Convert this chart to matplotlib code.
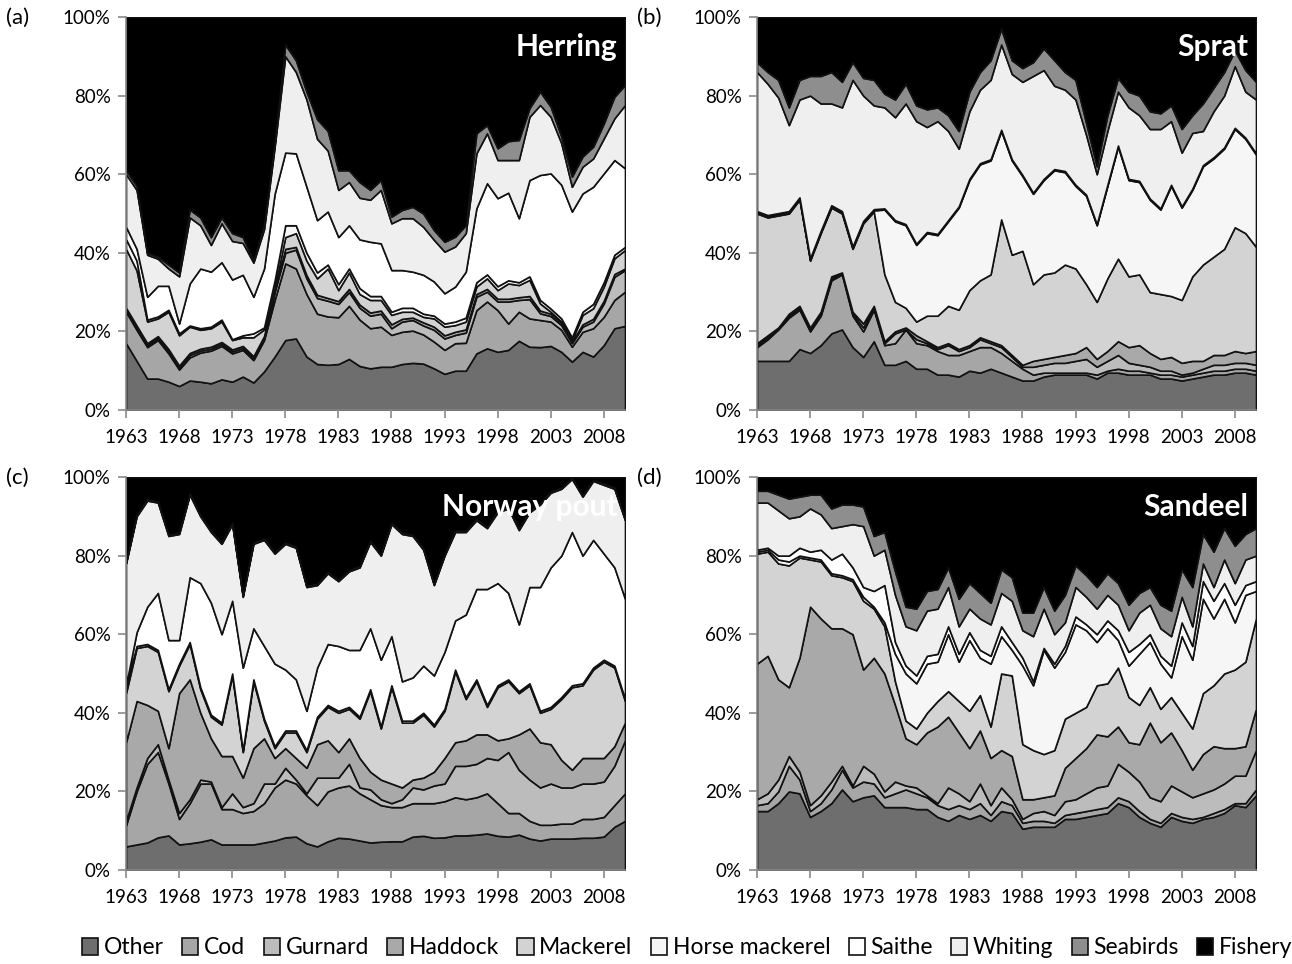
import matplotlib.pyplot as plt
import numpy as np

plt.rcParams['font.family'] = ['Lato', 'DejaVu Sans']

YEARS = np.arange(1963, 2011)
SPECIES = ['Other', 'Cod', 'Gurnard', 'Haddock', 'Mackerel', 'Horse mackerel',
           'Saithe', 'Whiting', 'Seabirds', 'Fishery']
COLORS = ['#6e6e6e', '#a6a6a6', '#bcbcbc', '#a9a9a9', '#d3d3d3', '#f6f6f6',
          '#ffffff', '#efefef', '#8e8e8e', '#000000']
XTICKS = np.arange(1963, 2009, 5)

# cumulative tops (%) of each layer, one value per year
# (a) Herring
A_OTHER = [17, 12.5, 8, 8, 7.2, 6.1, 7.5, 7.2, 6.8, 7.8,
           7.2, 8.5, 7, 9.8, 13.6, 17.8, 18.2, 13.6, 11.7, 11.5,
           11.7, 13, 11.2, 10.6, 11, 11, 11.7, 12, 11.8, 10.6,
           9.2, 10, 10, 14.4, 15.7, 14.8, 15.3, 17.6, 16.1, 16,
           16.3, 14.8, 12.3, 14.8, 13.6, 16.5, 20.8, 21.4]
A_COD = [25, 20.4, 16, 17.8, 14.4, 10.3, 13.4, 14.6, 15.1, 16.3,
         14.4, 15.3, 12.7, 17.8, 28, 37.3, 36, 29.5, 24.5, 23.8,
         23.6, 26.5, 23, 20.8, 21.2, 19.1, 19.9, 20.2, 19.2, 17.4,
         15.3, 17, 17.1, 25.4, 27.6, 25.4, 22, 25, 23.3, 22.9,
         22.5, 20.4, 16.1, 19.9, 20.8, 23.7, 28, 30.1]
A_GUR = [25.5, 21, 16.5, 18.3, 15, 10.8, 14, 15.1, 15.6, 16.8,
         14.9, 15.8, 13.2, 18.3, 30, 40, 40.8, 33.5, 28.5, 27.8,
         27, 30, 26, 24, 24.5, 20.8, 22.5, 22.9, 21.5, 20.4,
         18.2, 19.1, 19.7, 28.8, 30.1, 27.6, 27.6, 28, 28.2, 24.6,
         23.9, 21.6, 17, 21.2, 22.5, 27.1, 33.9, 35.6]
A_HAD = [26, 21.5, 17, 18.8, 15.5, 11.3, 14.5, 15.6, 16.1, 17.3,
         15.4, 16.3, 13.7, 18.8, 30.5, 41, 41.5, 34.3, 29.3, 28.5,
         27.7, 30.8, 26.8, 24.8, 25.3, 21.8, 23.2, 23.5, 22.3, 21.2,
         19, 19.9, 20.5, 29.5, 30.8, 28.3, 28.3, 28.7, 29, 25.3,
         24.5, 22.2, 17.4, 21.8, 23.2, 27.8, 34.6, 36]
A_MAC = [41, 35.5, 22.5, 23.3, 25, 19, 21.2, 20.4, 20.8, 22.5,
         17.8, 18.5, 18.5, 20.5, 31, 44, 45, 38, 33.5, 36,
         30.5, 35, 29.5, 28, 28, 24.2, 25, 25, 23.7, 23.3,
         21.2, 21.6, 22.5, 31.4, 33.5, 30.5, 32.2, 31.8, 33.1, 27.1,
         25, 22.5, 17.8, 24.2, 25.9, 31.4, 38.6, 40.7]
A_HOR = [43.5, 38, 23, 23.8, 25.5, 19.5, 21.5, 20.8, 21.2, 23,
         18, 19, 19.5, 21, 33, 47, 47, 40, 35, 37,
         32, 36, 31, 29, 29, 25, 26, 26, 24.5, 24,
         22, 22.5, 23.5, 32.5, 34.5, 31.5, 33, 32.5, 34, 28,
         25.8, 23.3, 18.5, 25, 27, 32.5, 39.5, 41.5]
A_SAI = [46.6, 41, 28.8, 31.6, 31.6, 22, 32.2, 36, 35.2, 37.6,
         33.2, 34.4, 28.8, 36, 55, 65.5, 65.3, 56.8, 48.3, 50.5,
         44, 47, 43.4, 42.8, 42.4, 35.6, 35.6, 35.2, 34.4, 32.7,
         29.7, 31.4, 35.2, 51.3, 57.7, 53.9, 55.3, 48.8, 58.5, 59.8,
         60.2, 57.3, 50.5, 55.1, 56.8, 60.2, 63.6, 61.5]
A_WHI = [60, 56, 39.5, 38.5, 36, 34, 49, 47, 42, 47.5,
         43, 42.5, 37.5, 46, 67, 90, 86, 79, 69, 66,
         56, 58, 54, 53.5, 56, 47.5, 48.8, 48.8, 46.6, 43.3,
         40.3, 41.6, 45, 65.3, 70.4, 63.6, 63.6, 63.6, 74.6, 77.6,
         74.6, 67.9, 56.8, 61.9, 64, 69.1, 74.2, 77.6]
A_SEA = [61, 57, 40, 39, 37, 35, 51, 49, 44, 49,
         45, 44, 38, 47, 68, 93, 89, 81, 74, 71,
         61, 61, 58, 56, 58.5, 49.2, 50.9, 51.7, 50, 45.8,
         42.8, 44.1, 47, 70.4, 72.5, 66.6, 68.4, 68.7, 76.8, 81,
         77.2, 69.6, 59.4, 64.5, 67, 72.9, 79.7, 82.7]

# (b) Sprat
B_OTHER = [12.5, 12.5, 12.5, 12.5, 15.5, 14.5, 16.5, 19.5, 20.5, 16,
           13.5, 17.5, 11.5, 11.5, 12.5, 10.5, 10.5, 9, 9, 8.5,
           10, 9.5, 10.5, 9.5, 8.5, 7.5, 7.5, 8.5, 9, 9,
           9, 9, 8, 9.5, 9.5, 9, 9, 9, 8, 8,
           7.5, 8, 8.5, 9, 9, 9.5, 9.5, 9]
B_COD = [16, 18, 20.5, 23.5, 25.5, 20, 24, 33, 34.5, 24,
         20, 25.5, 16.5, 17, 20.5, 17, 16.5, 15, 14, 14,
         15, 16, 16, 14.5, 12.5, 10.5, 9, 9.5, 9.5, 9.5,
         9.5, 9.5, 9, 10, 10.5, 10, 10, 9.5, 9, 9,
         8.5, 9, 9.5, 10, 10, 10.5, 10.5, 10]
B_GUR = [16.5, 18.5, 21, 24, 26, 20.5, 24.5, 33.5, 35, 24.5,
         21, 26, 17, 19.5, 20.5, 18, 17, 15.5, 16.5, 15,
         16, 18, 17, 16, 13.5, 11, 11, 11.5, 12, 12,
         12.5, 13, 11, 12.5, 14, 12, 11.5, 11, 10, 10,
         9, 9.5, 10.5, 11.5, 11.5, 12, 12, 11.5]
B_HAD = [17, 19, 21, 24.5, 26.5, 21, 25, 34, 35, 25,
         22, 26.5, 17.5, 20, 21, 19, 17.5, 16, 17, 15.5,
         16.5, 18.5, 17.5, 16.5, 14, 11.5, 12.5, 13, 13.5, 14,
         14.5, 16, 13, 15, 17.5, 16, 16.5, 14.5, 13, 13.5,
         12, 12.5, 12.5, 14, 14, 15, 14.5, 15]
B_MAC = [50, 49, 49.5, 50, 53.5, 38, 45, 51.5, 50, 41,
         47.5, 50.5, 34.5, 27.5, 26, 22.5, 24, 24, 26.5, 25.5,
         30.5, 33, 34.5, 48.5, 39.5, 40.5, 32, 34.5, 35, 37,
         36, 32, 27.5, 33.5, 38.5, 34, 34.5, 30, 29.5, 29,
         28, 34, 37, 39, 41, 46.5, 45, 41.5]
B_HOR = [50.3, 49.3, 49.8, 50.3, 53.8, 38.3, 45.3, 51.8, 50.3, 41.3,
         47.8, 50.8, 51, 48, 47, 42, 45, 44.5, 48, 51.5,
         58.5, 62.5, 63.5, 71, 63.5, 59.5, 55, 58.5, 61, 60.5,
         57, 54.5, 47, 57, 67, 58.5, 58, 53.5, 51, 57,
         51.5, 56, 62, 64, 66.5, 71.5, 69, 65]
B_SAI = [50.6, 49.6, 50.1, 50.6, 54.1, 38.6, 45.6, 52.1, 50.6, 41.6,
         48.1, 51.1, 51.3, 48.3, 47.3, 42.3, 45.3, 44.8, 48.3, 51.8,
         58.8, 62.8, 63.8, 71.3, 63.8, 59.8, 55.3, 58.8, 61.3, 60.8,
         57.3, 54.8, 47.3, 57.3, 67.3, 58.8, 58.3, 53.8, 51.3, 57.3,
         51.8, 56.3, 62.3, 64.3, 66.8, 71.8, 69.3, 65.3]
B_WHI = [86, 83, 79.5, 72.5, 79, 80, 78, 78, 77, 84,
         80, 77.5, 77, 74.5, 78, 73.5, 72, 73.5, 71, 66.5,
         76, 81.5, 84, 93, 85.5, 83.5, 85, 86.5, 82.5, 81.5,
         79, 70, 60, 71, 81, 77, 75, 71.5, 71.5, 73.5,
         65.5, 70.5, 71, 76, 80, 87.5, 81, 79]
B_SEA = [88.5, 86, 84, 77, 84, 85, 85, 86, 83.5, 88.5,
         84.5, 84, 80.5, 79, 83, 77.5, 76.5, 77, 75, 71,
         81, 86, 89, 97, 89, 87, 88.5, 92, 89, 86,
         84, 73, 62, 75, 84.5, 81, 80, 76, 75.5, 77.5,
         71.5, 75, 78, 82, 86, 91.5, 86.5, 83.5]

# (c) Norway pout
C_OTHER = [6, 6.5, 7, 8.3, 8.8, 6.5, 6.8, 7.2, 7.8, 6.5,
           6.5, 6.5, 6.5, 7, 7.5, 8.3, 8.5, 6.8, 6, 7.3,
           8.2, 8, 7.5, 7, 7.2, 7.3, 7.3, 8.5, 8.7, 8.2,
           8.3, 8.8, 8.8, 9, 9.3, 8.7, 8.5, 9, 8, 7.5,
           8, 8, 8, 8.2, 8.2, 8.5, 11, 12.5]
C_COD = [11.4, 20, 27, 30, 22, 13, 17, 22, 22, 15.5,
         15.5, 14.5, 15, 17, 21, 23, 22, 19, 16.5, 20,
         21, 21.5, 19.5, 18, 16.5, 16, 16, 17, 17, 17,
         17.5, 18.5, 18, 18.5, 19.5, 17, 14.5, 14.5, 12.5, 11.5,
         11.5, 11.8, 11.8, 13, 13, 13.5, 16.5, 19.5]
C_GUR = [12.5, 21, 28.5, 32, 23, 14.5, 18, 23, 22.5, 16,
         19.5, 16, 17, 22, 22, 26, 23, 19.5, 23.5, 23.5,
         23.5, 27, 21, 20.5, 18, 17, 18, 21, 20.5, 21.5,
         22, 26.5, 26.5, 27, 28.5, 28, 30, 25.5, 23, 21,
         22, 21, 21, 22, 22, 22.5, 26.5, 33]
C_HAD = [32.5, 43, 42, 40.5, 31, 45, 48.5, 40, 33.5, 29,
         29, 23.5, 31, 33.5, 28.5, 31, 28.5, 26, 32, 33,
         30, 33.5, 28.5, 25, 23, 22, 21, 23, 23.5, 25,
         28.5, 32.5, 33, 34.5, 34.5, 33, 33.5, 34.5, 36, 32.5,
         32, 28, 25.5, 28.5, 28.5, 28.5, 31.5, 37.5]
C_MAC = [45, 56.5, 57, 55.5, 45.5, 52, 57.5, 46, 39, 37,
         49.5, 30, 48, 38, 31, 35, 35, 30, 38.5, 41.5,
         40, 41, 38.5, 45.5, 36, 46.5, 37.5, 37.5, 39.5, 36.5,
         40.5, 50.5, 43.5, 48, 41.5, 46.5, 48, 45, 47, 40,
         41, 43.5, 46.5, 47, 51, 53, 51.5, 43]
C_HOR = [47, 57, 57.5, 56, 46, 52.5, 58, 46.5, 39.5, 37.5,
         50, 30.5, 48.5, 38.5, 31.5, 35.5, 35.5, 30.5, 39, 42,
         40.5, 41.5, 39, 46, 36.5, 47, 38, 38, 40, 37,
         41, 51, 44, 48.5, 42, 47, 48.5, 45.5, 47.5, 40.5,
         41.5, 44, 47, 47.5, 51.5, 53.5, 52, 43.5]
C_SAI = [47, 60.5, 67, 70.5, 58.5, 58.5, 74.5, 73, 68, 60,
         68.5, 51.5, 61.5, 57, 52.5, 51, 48.5, 40.5, 51.5, 57.5,
         57, 56, 56, 61.5, 53.5, 59.5, 48, 49, 52, 49.5,
         55.5, 63.5, 65, 71.5, 71.5, 73, 70.5, 62.5, 72, 72,
         77, 80, 86, 80, 84, 80.5, 77, 69]
C_WHI = [78, 90, 94, 93.5, 85, 85.5, 95.5, 90, 86, 83,
         88, 69.5, 83, 84, 80.5, 83, 82, 72, 72.5, 75.5,
         73.5, 76, 77, 83.5, 80, 88, 85.5, 85, 81.5, 72.5,
         80, 86, 86, 89, 87, 91, 92, 86.5, 91, 93,
         96, 97, 99.5, 95, 99, 98, 97, 89]
C_SEA = [78.3, 90.3, 94.3, 93.8, 85.3, 85.8, 95.8, 90.3, 86.3, 83.3,
         88.3, 69.8, 83.3, 84.3, 80.8, 83.3, 82.3, 72.3, 72.8, 75.8,
         73.8, 76.3, 77.3, 83.8, 80.3, 88.3, 85.8, 85.3, 81.8, 72.8,
         80.3, 86.3, 86.3, 89.3, 87.3, 91.3, 92.3, 86.8, 91.3, 93.3,
         96.3, 97.3, 99.7, 95.3, 99.3, 98.3, 97.3, 89.3]

# (d) Sandeel
D_OTHER = [15, 15, 17, 20, 19.5, 13.5, 15, 17, 20.5, 17.5,
           18.5, 19, 16, 16, 16, 15.5, 15.5, 13.5, 12.5, 14,
           13, 14, 12.5, 15, 14.5, 10.5, 11, 11, 11, 13,
           13, 13.5, 14, 14.5, 17, 16, 13.5, 12, 11, 13.5,
           12.5, 12, 13, 13.5, 14.5, 16.5, 16, 19]
D_COD = [16.5, 17, 20, 26.5, 23, 15, 17, 20.5, 25.5, 21,
         22.5, 22, 18.5, 19.5, 20.5, 19.5, 18.5, 16.5, 15.5, 16.5,
         15.5, 17, 14, 17.5, 16.5, 12, 12.5, 12.5, 12, 14,
         14.5, 15, 15.5, 16, 18.5, 17.5, 15, 13, 12, 14.5,
         13.5, 13, 13.5, 14.5, 15.5, 17, 17, 20.5]
D_GUR = [18, 19.5, 23, 29, 25, 16.5, 19, 22.5, 26.5, 21.5,
         26.5, 24.5, 20, 22.5, 21.5, 21, 19, 17, 21, 19.5,
         17.5, 22, 16.5, 21, 18, 13, 14.5, 15, 14, 17.5,
         18, 19.5, 21, 21.5, 27, 25, 22.5, 18.5, 17.5, 21.5,
         20, 18.5, 19.5, 20.5, 22, 24, 24, 30.5]
D_HAD = [52.5, 54.5, 48.5, 46.5, 54, 67, 64, 61.5, 61.5, 60,
         51, 54, 50, 42, 33.5, 32, 35, 36.5, 39, 35,
         31, 35.5, 28.5, 30.5, 29, 18, 18, 18.5, 19, 26,
         28.5, 31, 34.5, 34, 36.5, 32.5, 32, 37.5, 32.5, 35,
         30.5, 25.5, 29.5, 31.5, 31, 31, 31.5, 41]
D_MAC = [80.5, 81, 78, 77.5, 79.5, 79, 78.5, 75, 74.5, 73.5,
         68.5, 66.5, 62, 48, 38, 36, 40, 43, 45.5, 43,
         40.5, 44.5, 36.5, 50, 49.5, 32, 30.5, 29.5, 30.5, 38.5,
         40, 41.5, 47, 47.5, 51.5, 44, 42, 46.5, 41, 44,
         40, 36, 45, 47, 50, 51, 53, 64]
D_HOR = [81, 81.5, 79, 78.5, 80, 79.5, 79, 75.5, 75, 74,
         69.5, 67, 63, 55, 50, 47.5, 52.5, 53, 60, 53,
         58.5, 54, 52.5, 59.5, 56, 52, 47, 56, 51.5, 55.5,
         62.5, 61, 58, 61.5, 58.5, 52, 55, 58, 52.5, 49,
         59.5, 53.5, 69, 64, 69, 63, 70, 71]
D_SAI = [81.5, 82, 80, 80, 82, 81, 81.5, 79, 80.5, 77,
         72, 71, 72.5, 58, 52, 49.5, 54.5, 55, 62, 55,
         60.5, 56, 54.5, 62, 58, 54, 48, 56.5, 52.5, 57,
         64.5, 62.5, 60, 63.5, 61, 55.5, 57.5, 60, 54.5, 52,
         63, 57, 73.5, 68.5, 73, 67.5, 72.5, 73.5]
D_WHI = [93.5, 93.5, 91.5, 89.5, 90, 92, 90.5, 87, 87.5, 88,
         87.5, 80, 81.5, 70, 62, 61, 66, 66.5, 72, 62,
         66.5, 64, 62.5, 70.5, 68.5, 61, 59.5, 66.5, 60, 63,
         72, 69.5, 66.5, 70, 67.5, 61, 65.5, 67.5, 61.5, 59.5,
         69.5, 62, 78, 72, 79, 73, 79, 80]
D_SEA = [96.5, 96.5, 95.5, 94.5, 95, 95.5, 95.5, 92, 93, 93,
         92.5, 85, 86, 76, 67, 66.5, 71, 71.5, 77, 69,
         73, 70.5, 68, 76.5, 74.5, 65.5, 65.5, 72, 66, 70,
         77.5, 75, 72, 75.5, 73, 67.5, 70.5, 72, 67.5, 66,
         76.5, 72, 85.5, 81, 87, 82.5, 85.5, 87]


def shares(tops):
    # turn the cumulative tops into layer shares, fishery fills up to 100 %
    cum = np.maximum.accumulate(np.array(tops, dtype=float), axis=0)
    cum = np.clip(cum, 0, 100)
    n = len(YEARS)
    edges = np.vstack([np.zeros(n), cum, np.full(n, 100.0)])
    return np.diff(edges, axis=0)


def draw(ax, tops, name):
    ax.stackplot(YEARS, shares(tops), colors=COLORS, labels=SPECIES,
                 edgecolor='#111111', linewidth=1.2)
    ax.set_xlim(1963, 2010)
    ax.set_ylim(0, 100)
    ax.set_xticks(XTICKS)
    ax.set_yticks(np.arange(0, 101, 20))
    ax.set_yticklabels([f'{v}%' for v in range(0, 101, 20)])
    ax.tick_params(labelsize=13.5, length=6, width=1.2, color='#8a8a8a', direction='out')
    ax.tick_params(axis='x', pad=8)
    ax.tick_params(axis='y', pad=5)
    for s in ['top', 'right']:
        ax.spines[s].set_visible(False)
    for s in ['left', 'bottom']:
        ax.spines[s].set_color('#8a8a8a')
        ax.spines[s].set_linewidth(1.2)
    ax.text(0.985, 0.96, name, transform=ax.transAxes, ha='right', va='top',
            color='white', fontsize=21.5, fontweight='bold', zorder=5)


fig = plt.figure(figsize=(12.92, 9.64), dpi=100)
W, H = 1292, 964
panels = [
    ((126, 17), [A_OTHER, A_COD, A_GUR, A_HAD, A_MAC, A_HOR, A_SAI, A_WHI, A_SEA], 'Herring', '(a)'),
    ((757, 17), [B_OTHER, B_COD, B_GUR, B_HAD, B_MAC, B_HOR, B_SAI, B_WHI, B_SEA], 'Sprat', '(b)'),
    ((126, 477), [C_OTHER, C_COD, C_GUR, C_HAD, C_MAC, C_HOR, C_SAI, C_WHI, C_SEA], 'Norway pout', '(c)'),
    ((757, 477), [D_OTHER, D_COD, D_GUR, D_HAD, D_MAC, D_HOR, D_SAI, D_WHI, D_SEA], 'Sandeel', '(d)'),
]
axes = []
for (x0, y0), tops, name, tag in panels:
    ax = fig.add_axes([x0 / W, 1 - (y0 + 393) / H, 499 / W, 393 / H])
    draw(ax, tops, name)
    fig.text((x0 - 120) / W, 1 - (y0 + 1) / H, tag, fontsize=16, va='center', ha='left')
    axes.append(ax)

handles, labels = axes[0].get_legend_handles_labels()
fig.legend(handles, labels, loc='center', bbox_to_anchor=(0.532, 1 - 948 / H), ncol=10,
           frameon=False, fontsize=16.5, handlelength=0.7, handleheight=0.7,
           handletextpad=0.25, columnspacing=0.8, borderaxespad=0)

fig.savefig('out.png', dpi=100)
